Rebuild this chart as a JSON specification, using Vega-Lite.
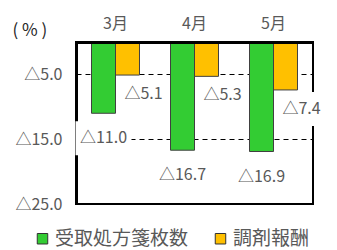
{
  "$schema": "https://vega.github.io/schema/vega-lite/v6.json",
  "width": 237,
  "height": 162,
  "autosize": {"type": "none"},
  "padding": {"left": 76, "top": 42, "right": 24, "bottom": 46},
  "background": "white",
  "config": {
    "font": "Noto Sans CJK JP",
    "view": {"stroke": "black", "strokeWidth": 2}
  },
  "data": {
    "values": [
      {"month": "3月", "series": "受取処方箋枚数", "value": -11.0},
      {"month": "3月", "series": "調剤報酬", "value": -5.1},
      {"month": "4月", "series": "受取処方箋枚数", "value": -16.7},
      {"month": "4月", "series": "調剤報酬", "value": -5.3},
      {"month": "5月", "series": "受取処方箋枚数", "value": -16.9},
      {"month": "5月", "series": "調剤報酬", "value": -7.4}
    ]
  },
  "transform": [
    {"calculate": "'△' + format(-datum.value, '.1f')", "as": "label"}
  ],
  "encoding": {
    "x": {
      "field": "month",
      "type": "nominal",
      "sort": ["3月", "4月", "5月"],
      "scale": {"paddingInner": 0, "paddingOuter": 0},
      "axis": {
        "orient": "top",
        "title": null,
        "ticks": false,
        "domain": true,
        "domainColor": "black",
        "domainWidth": 3,
        "labelAngle": 0,
        "labelFontSize": 16,
        "labelColor": "#595959",
        "labelPadding": 11,
        "zindex": 1
      }
    },
    "xOffset": {
      "field": "series",
      "type": "nominal",
      "sort": ["受取処方箋枚数", "調剤報酬"],
      "scale": {"paddingInner": 0, "paddingOuter": 0.646}
    },
    "y": {
      "field": "value",
      "type": "quantitative",
      "scale": {"domain": [-25, 0], "nice": false},
      "axis": {
        "values": [-5, -15, -25],
        "labelExpr": "'△' + format(-datum.value, '.1f')",
        "labelFontSize": 16,
        "labelColor": "#595959",
        "labelPadding": 14,
        "ticks": false,
        "domain": true,
        "domainColor": "black",
        "domainWidth": 3,
        "grid": true,
        "gridColor": "black",
        "gridWidth": 1.2,
        "gridDash": [5, 4],
        "title": "( % )",
        "titleFont": "Noto Sans CJK JP",
        "titleAngle": 0,
        "titleFontSize": 17,
        "titleFontWeight": "normal",
        "titleColor": "#262626",
        "titleAlign": "left",
        "titleBaseline": "middle",
        "titleX": -64,
        "titleY": -12
      }
    }
  },
  "layer": [
    {
      "transform": [{"filter": "datum.series == '受取処方箋枚数'"}],
      "mark": {
        "type": "point",
        "shape": "M-0.933,0.267L0.933,0.267L0.933,1.4L-0.933,1.4Z",
        "size": 3600,
        "filled": true,
        "fill": "white",
        "opacity": 1,
        "strokeWidth": 0
      }
    },
    {
      "transform": [{"filter": "datum.series == '調剤報酬'"}],
      "mark": {
        "type": "point",
        "shape": "M-0.4,0.067L1.467,0.067L1.467,1.2L-0.4,1.2Z",
        "size": 3600,
        "filled": true,
        "fill": "white",
        "opacity": 1,
        "strokeWidth": 0
      }
    },
    {
      "mark": {"type": "bar", "stroke": "#404040", "strokeWidth": 1},
      "encoding": {
        "color": {
          "field": "series",
          "type": "nominal",
          "sort": ["受取処方箋枚数", "調剤報酬"],
          "scale": {"range": ["#33CC33", "#FFC000"]},
          "legend": {
            "orient": "none",
            "direction": "horizontal",
            "legendX": -43,
            "legendY": 187,
            "title": null,
            "symbolType": "square",
            "symbolSize": 110,
            "symbolStrokeColor": "#333333",
            "symbolStrokeWidth": 1,
            "symbolOpacity": 1,
            "labelFontSize": 19,
            "labelColor": "#595959",
            "labelOffset": 3,
            "columnPadding": 22
          }
        }
      }
    },
    {
      "transform": [{"filter": "datum.series == '受取処方箋枚数'"}],
      "mark": {"type": "text", "dy": 25, "fontSize": 16, "fill": "#595959", "baseline": "middle"},
      "encoding": {"text": {"field": "label"}}
    },
    {
      "transform": [{"filter": "datum.series == '調剤報酬'"}],
      "mark": {"type": "text", "dx": 16, "dy": 19, "fontSize": 16, "fill": "#595959", "baseline": "middle"},
      "encoding": {"text": {"field": "label"}}
    }
  ]
}
